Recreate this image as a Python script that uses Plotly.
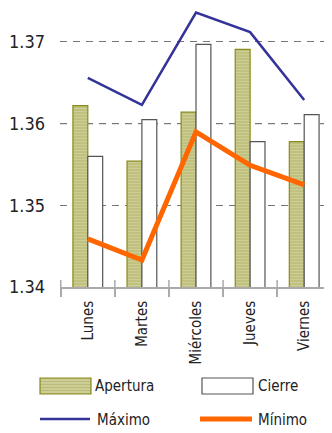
import plotly.graph_objects as go

# Datos
dias = ["Lunes", "Martes", "Miércoles", "Jueves", "Viernes"]
apertura = [1.3622, 1.3554, 1.3614, 1.3691, 1.3578]
cierre = [1.3560, 1.3605, 1.3697, 1.3578, 1.3611]
maximo = [1.3656, 1.3623, 1.3736, 1.3712, 1.3629]
minimo = [1.3459, 1.3433, 1.3590, 1.3549, 1.3525]
ticks_y = [1.34, 1.35, 1.36, 1.37]

FUENTE = "DejaVu Sans Condensed, Liberation Sans Narrow, sans-serif"
OFF = 8  # margen del body de la página
W, H = 332 - OFF, 433 - OFF
M_L, M_R, M_T, M_B = 52, 0, 0, 146


def px(x):
    # x en píxeles de la página -> coordenada paper
    return (x - OFF - M_L) / (W - M_L - M_R)


def py(y):
    return (H - M_B - (y - OFF)) / (H - M_B - M_T)


fig = go.Figure()

fig.add_trace(go.Bar(
    x=dias, y=apertura, name="Apertura",
    marker=dict(
        color="#bdbd7e",
        line=dict(color="#8a8a1e", width=1.2),
        pattern=dict(shape="-", bgcolor="#bcbc7a", fgcolor="#dedeb2", size=3, solidity=0.45),
    ),
    showlegend=False,
))
fig.add_trace(go.Bar(
    x=dias, y=cierre, name="Cierre",
    marker=dict(color="white", line=dict(color="#555555", width=1.2)),
    showlegend=False,
))
fig.add_trace(go.Scatter(
    x=dias, y=maximo, mode="lines", name="Máximo",
    line=dict(color="#333399", width=2.5), showlegend=False,
))
fig.add_trace(go.Scatter(
    x=dias, y=minimo, mode="lines", name="Mínimo",
    line=dict(color="#ff6600", width=5), showlegend=False,
))

# línea de 1.36 más oscura
fig.add_hline(y=ticks_y[2], line=dict(color="#333333", width=1, dash="7px,6px"), layer="below")

# marcas del eje x que cruzan la línea
for i in range(len(dias) + 1):
    fig.add_shape(type="line", xref="x", yref="paper",
                  x0=i - 0.5, x1=i - 0.5, y0=0, y1=py(280),
                  line=dict(color="#aaaaaa", width=1.5))

# Leyenda dibujada a mano
fig.add_shape(type="rect", xref="paper", yref="paper",
              x0=px(40), x1=px(91), y0=py(394), y1=py(378),
              fillcolor="#bcbc7a", line=dict(color="#8a8a1e", width=1.2))
for yy in range(380, 394, 3):
    fig.add_shape(type="line", xref="paper", yref="paper",
                  x0=px(41), x1=px(90), y0=py(yy), y1=py(yy),
                  line=dict(color="#dedeb2", width=1.2))
fig.add_shape(type="rect", xref="paper", yref="paper",
              x0=px(202), x1=px(253), y0=py(394), y1=py(378),
              fillcolor="white", line=dict(color="#555555", width=1.2))
fig.add_shape(type="line", xref="paper", yref="paper",
              x0=px(40), x1=px(90), y0=py(419), y1=py(419),
              line=dict(color="#333399", width=2.5))
fig.add_shape(type="line", xref="paper", yref="paper",
              x0=px(200), x1=px(252), y0=py(419), y1=py(419),
              line=dict(color="#ff6600", width=5))

for texto, x, y in [("Apertura", 93, 386), ("Cierre", 256, 386),
                    ("Máximo", 95, 420), ("Mínimo", 256, 420)]:
    fig.add_annotation(text=texto, xref="paper", yref="paper",
                       x=px(x), y=py(y), xanchor="left", yanchor="middle",
                       showarrow=False, font=dict(family=FUENTE, size=15, color="#222222"))

fig.update_layout(
    width=W, height=H,
    margin=dict(l=M_L, r=M_R, t=M_T, b=M_B),
    paper_bgcolor="white", plot_bgcolor="white",
    barmode="group", bargap=0.45, bargroupgap=0,
    font=dict(family=FUENTE, color="#222222"),
    xaxis=dict(
        showline=True, linecolor="#aaaaaa", linewidth=1.5,
        ticks="outside", tickson="boundaries", ticklen=8, tickcolor="#aaaaaa", tickwidth=1.5,
        tickangle=-90, tickfont=dict(size=15), showgrid=False, ticklabelstandoff=6,
    ),
    yaxis=dict(
        range=[1.34, 1.37416], tickvals=ticks_y, tickformat=".2f",
        showline=False, zeroline=False, ticks="",
        showgrid=True, gridcolor="#777777", gridwidth=1, griddash="7px,6px",
        tickfont=dict(size=18), ticklabelstandoff=14,
    ),
)

fig.write_html("out.html")
